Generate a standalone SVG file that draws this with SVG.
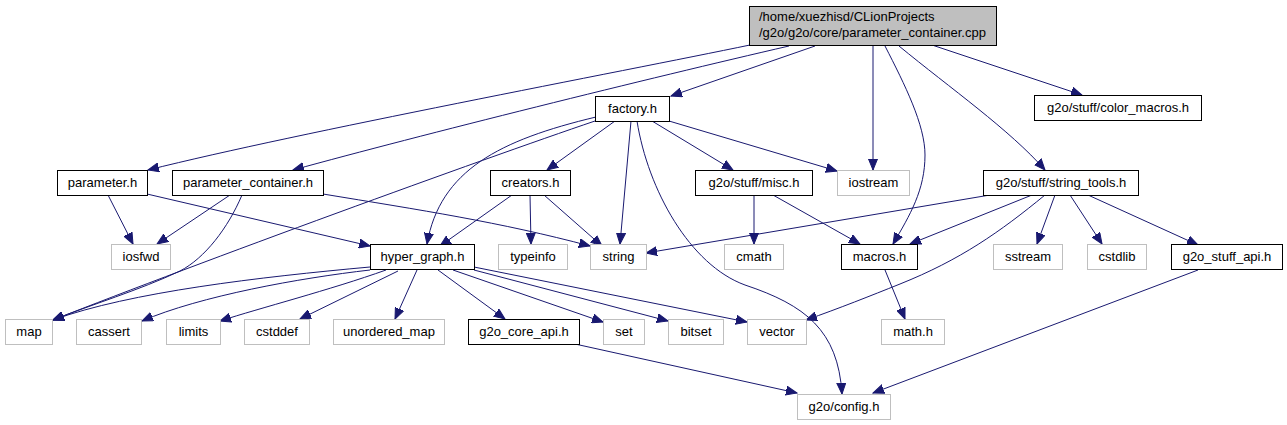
<svg xmlns="http://www.w3.org/2000/svg" width="1287" height="425" viewBox="0 0 1287 425">
<style>
text{font-family:"Liberation Sans",Arial,Helvetica,sans-serif;font-size:13px;fill:#000;text-anchor:middle}
.doc rect{fill:#fff;stroke:#000;stroke-width:1}
.ext rect{fill:#fff;stroke:#bfbfbf;stroke-width:1}
.root rect{fill:#bfbfbf;stroke:#000;stroke-width:1}
.root text{text-anchor:start}
#edges path{fill:none;stroke:#191970;stroke-width:1;marker-end:url(#ah)}
</style>
<defs>
<marker id="ah" markerUnits="userSpaceOnUse" markerWidth="12" markerHeight="10" refX="11" refY="5" orient="auto">
<path d="M0,0.5 L11,5 L0,9.5 z" fill="#191970" stroke="#191970" stroke-width="1"/>
</marker>
</defs>
<rect width="1287" height="425" fill="#fff"/>
<g id="edges">
<path d="M750,45 C620,72 300,132 148,170"/>
<path d="M789,46 C650,78 420,135 293,170"/>
<path d="M815,46 L671,96"/>
<path d="M873,45 L873,170"/>
<path d="M885,46 C905,85 925,125 925,155 C925,190 910,215 893,244"/>
<path d="M899,46 C950,88 1010,130 1045,170"/>
<path d="M932,45 L1082,95"/>
<path d="M615,121 L547,170"/>
<path d="M596,117 C500,140 440,170 427,244"/>
<path d="M595,121 C480,160 200,262 53,320"/>
<path d="M631,121 L620,244"/>
<path d="M637,121 C648,190 690,265 745,285 C805,305 838,330 842,394"/>
<path d="M652,121 L733,170"/>
<path d="M669,121 L837,171"/>
<path d="M108,195 L133,244"/>
<path d="M147,194 L370,246"/>
<path d="M230,195 L157,244"/>
<path d="M242,195 C228,228 205,258 180,271 C140,290 90,305 53,320"/>
<path d="M323,194 C420,210 500,222 590,246"/>
<path d="M512,195 L440,246"/>
<path d="M530,195 L531,244"/>
<path d="M544,195 L602,246"/>
<path d="M754,195 L754,244"/>
<path d="M773,195 L860,244"/>
<path d="M990,195 L646,253"/>
<path d="M1032,195 L910,244"/>
<path d="M1045,195 C1000,232 960,260 900,284 C870,296 840,308 806,320"/>
<path d="M1055,195 L1037,244"/>
<path d="M1070,195 L1102,244"/>
<path d="M1088,195 L1198,245"/>
<path d="M370,267 C260,277 130,292 53,320"/>
<path d="M370,270 C300,278 200,296 142,321"/>
<path d="M386,270 C330,290 260,308 220,321"/>
<path d="M398,271 L300,319"/>
<path d="M417,270 L395,319"/>
<path d="M438,270 L505,319"/>
<path d="M453,270 L603,322"/>
<path d="M474,270 L668,321"/>
<path d="M474,267 L747,322"/>
<path d="M575,344 L797,393"/>
<path d="M885,270 L905,319"/>
<path d="M1198,270 L873,393"/>
</g>
<g id="n-root" class="root"><rect x="749.5" y="6.5" width="247" height="39"/><text x="759" y="21">/home/xuezhisd/CLionProjects</text><text x="759" y="37">/g2o/g2o/core/parameter_container.cpp</text></g>
<g id="n-factory" class="doc"><rect x="595.5" y="96.5" width="74" height="25"/><text x="632.5" y="113">factory.h</text></g>
<g id="n-color_macros" class="doc"><rect x="1034.5" y="95.5" width="167" height="25"/><text x="1118" y="112">g2o/stuff/color_macros.h</text></g>
<g id="n-parameter" class="doc"><rect x="57.5" y="170.5" width="90" height="25"/><text x="102.5" y="187">parameter.h</text></g>
<g id="n-parameter_container" class="doc"><rect x="172.5" y="170.5" width="151" height="25"/><text x="248" y="187">parameter_container.h</text></g>
<g id="n-creators" class="doc"><rect x="490.5" y="170.5" width="80" height="25"/><text x="530.5" y="187">creators.h</text></g>
<g id="n-misc" class="doc"><rect x="695.5" y="170.5" width="117" height="25"/><text x="754" y="187">g2o/stuff/misc.h</text></g>
<g id="n-iostream" class="ext"><rect x="837.5" y="170.5" width="72" height="25"/><text x="873.5" y="187">iostream</text></g>
<g id="n-string_tools" class="doc"><rect x="983.5" y="170.5" width="155" height="25"/><text x="1061" y="187">g2o/stuff/string_tools.h</text></g>
<g id="n-iosfwd" class="ext"><rect x="111.5" y="244.5" width="59" height="25"/><text x="141" y="261">iosfwd</text></g>
<g id="n-hyper_graph" class="doc"><rect x="370.5" y="244.5" width="104" height="25"/><text x="422.5" y="261">hyper_graph.h</text></g>
<g id="n-typeinfo" class="ext"><rect x="498.5" y="244.5" width="69" height="25"/><text x="533" y="261">typeinfo</text></g>
<g id="n-string" class="ext"><rect x="590.5" y="244.5" width="56" height="25"/><text x="618.5" y="261">string</text></g>
<g id="n-cmath" class="ext"><rect x="724.5" y="244.5" width="59" height="25"/><text x="754" y="261">cmath</text></g>
<g id="n-macros" class="doc"><rect x="841.5" y="244.5" width="76" height="25"/><text x="879.5" y="261">macros.h</text></g>
<g id="n-sstream" class="ext"><rect x="993.5" y="244.5" width="69" height="25"/><text x="1028" y="261">sstream</text></g>
<g id="n-cstdlib" class="ext"><rect x="1087.5" y="244.5" width="59" height="25"/><text x="1117" y="261">cstdlib</text></g>
<g id="n-g2o_stuff_api" class="doc"><rect x="1171.5" y="244.5" width="111" height="25"/><text x="1227" y="261">g2o_stuff_api.h</text></g>
<g id="n-map" class="ext"><rect x="5.5" y="319.5" width="47" height="25"/><text x="29" y="336">map</text></g>
<g id="n-cassert" class="ext"><rect x="76.5" y="319.5" width="65" height="25"/><text x="109" y="336">cassert</text></g>
<g id="n-limits" class="ext"><rect x="166.5" y="319.5" width="54" height="25"/><text x="193.5" y="336">limits</text></g>
<g id="n-cstddef" class="ext"><rect x="244.5" y="319.5" width="65" height="25"/><text x="277" y="336">cstddef</text></g>
<g id="n-unordered_map" class="ext"><rect x="333.5" y="319.5" width="111" height="25"/><text x="389" y="336">unordered_map</text></g>
<g id="n-g2o_core_api" class="doc"><rect x="468.5" y="319.5" width="111" height="25"/><text x="524" y="336">g2o_core_api.h</text></g>
<g id="n-set" class="ext"><rect x="603.5" y="319.5" width="41" height="25"/><text x="624" y="336">set</text></g>
<g id="n-bitset" class="ext"><rect x="668.5" y="319.5" width="55" height="25"/><text x="696" y="336">bitset</text></g>
<g id="n-vector" class="ext"><rect x="747.5" y="319.5" width="59" height="25"/><text x="777" y="336">vector</text></g>
<g id="n-math" class="ext"><rect x="881.5" y="319.5" width="63" height="25"/><text x="913" y="336">math.h</text></g>
<g id="n-config" class="ext"><rect x="797.5" y="394.5" width="93" height="25"/><text x="844" y="411">g2o/config.h</text></g>
</svg>
